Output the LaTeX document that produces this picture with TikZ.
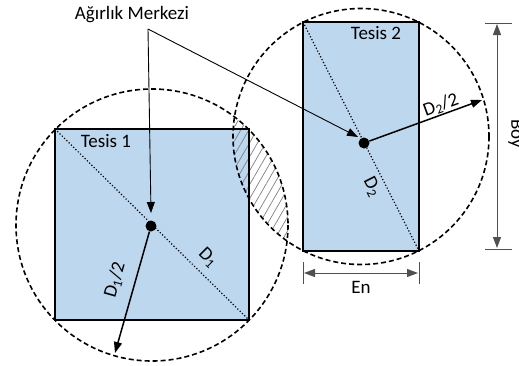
\documentclass[tikz,border=0pt]{standalone}
\usepackage{fontspec}
\setmainfont{Carlito}
\usetikzlibrary{arrows.meta,patterns.meta}
\definecolor{boxblue}{RGB}{189,215,238}
\definecolor{dimgray}{RGB}{80,80,80}
\begin{document}
\begin{tikzpicture}[x=1pt,y=-1pt,
  lbl/.style={font=\fontsize{19}{22}\selectfont, inner sep=0pt},
  facility/.style={draw=black, line width=1.8pt},
  diag/.style={dotted, line width=1.2pt},
  zone/.style={dashed, dash pattern=on 5pt off 3pt, line width=1.6pt},
  centre/.style={circle, fill=black, minimum size=11pt, inner sep=0pt},
  tip/.style={-{Triangle[length=11pt,width=8pt]}},
  radial/.style={tip, line width=1.5pt},
  leader/.style={line width=0.9pt},
  dimline/.style={{Triangle[length=11pt,width=8pt]}-{Triangle[length=11pt,width=8pt]}, line width=1pt, draw=dimgray},
  ext/.style={line width=1pt, draw=dimgray}]
\useasboundingbox (0,0) rectangle (519,365);

% facility fills
\fill[boxblue] (55,129) rectangle (249,320);
\fill[boxblue] (303,22) rectangle (419,251);

% hatched overlap
\begin{scope}
  \clip (152,225) circle[radius=136];
  \fill[pattern={Lines[angle=60,distance=7pt,line width=0.7pt]}, pattern color=gray] (361,136.5) circle[radius=128];
\end{scope}

% diagonals
\draw[diag] (55,129) -- (249,320);
\draw[diag] (303,22) -- (419,251);

% borders
\draw[facility] (55,129) rectangle (249,320);
\draw[facility] (303,22) rectangle (419,251);

% circles
\draw[zone] (152,225) circle[radius=136];
\draw[zone] (361,136.5) circle[radius=128];

% centres
\node[centre] (c1) at (151,226) {};
\node[centre] (c2) at (364,143) {};

% radii
\coordinate (r1) at (115,353);
\coordinate (r2) at (482,100);
\draw[radial] (c1) -- (r1);
\draw[radial] (c2) -- (r2);

% labels
\node[lbl] (title) at (132,15) {Ağırlık Merkezi};
\coordinate (apex) at (148,29);
\coordinate (t1) at (151,213);
\coordinate (t2) at (358,137);
\draw[leader, tip] (apex) -- (t1);
\draw[leader, tip] (apex) -- (t2);

\node[lbl] (tes1) at (106,141) {Tesis 1};
\node[lbl] (tes2) at (376,33) {Tesis 2};
\node[lbl, rotate=74] (d1h) at (115,280) {D\textsubscript{1}/2};
\node[lbl, rotate=20] (d2h) at (441,105) {D\textsubscript{2}/2};
\node[lbl, rotate=-45] (d1) at (208,258) {D\textsubscript{1}};
\node[lbl, rotate=-63] (d2) at (372,187) {D\textsubscript{2}};

% En dimension
\coordinate (e1a) at (303,262); \coordinate (e1b) at (303,284);
\coordinate (e2a) at (419,262); \coordinate (e2b) at (419,284);
\draw[ext] (e1a) -- (e1b);
\draw[ext] (e2a) -- (e2b);
\coordinate (el) at (304,273); \coordinate (er) at (418,273);
\draw[dimline] (el) -- (er);
\node[lbl] (en) at (361,287) {En};

% Boy dimension
\coordinate (b1a) at (485,23); \coordinate (b1b) at (512,23);
\coordinate (b2a) at (485,249); \coordinate (b2b) at (512,249);
\draw[ext] (b1a) -- (b1b);
\draw[ext] (b2a) -- (b2b);
\coordinate (bt) at (497,24); \coordinate (bb) at (497,248);
\draw[dimline] (bt) -- (bb);
\node[lbl, rotate=-90] (boy) at (516,134) {Boy};
\end{tikzpicture}
\end{document}
